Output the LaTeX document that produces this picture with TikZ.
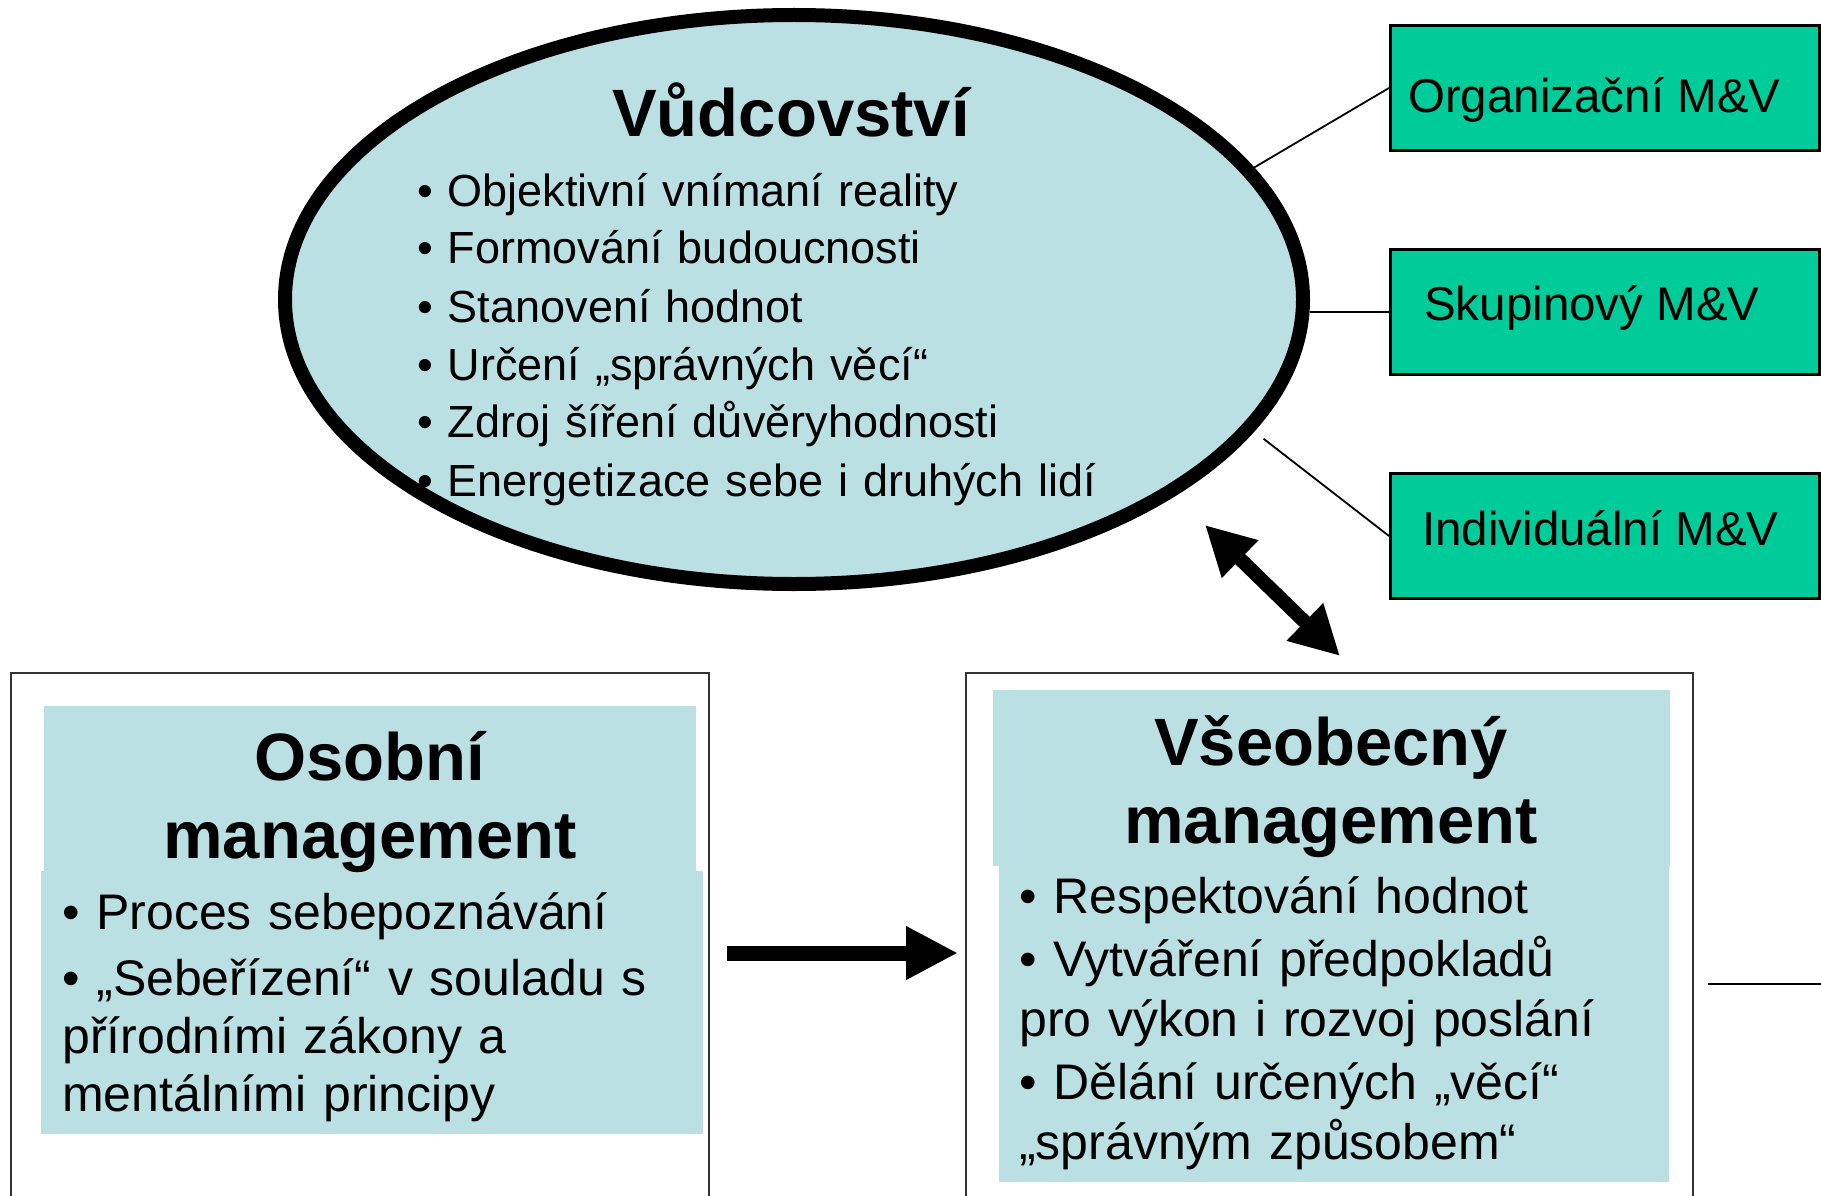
\documentclass[tikz,border=0pt]{standalone}
\usepackage{fontspec}
\setmainfont{Liberation Sans}
\usetikzlibrary{shapes.geometric, arrows.meta, positioning}

\definecolor{paleBlue}{RGB}{187,224,227}
\definecolor{mvGreen}{RGB}{0,204,153}

\begin{document}
\begin{tikzpicture}[
        x=1pt, y=-1pt,
        % styles
        leadShape/.style={ellipse, draw=black, line width=14pt, fill=paleBlue, inner sep=0pt, minimum width=1018pt, minimum height=569pt},
        mvBox/.style={rectangle, draw=black, line width=3pt, fill=mvGreen, inner sep=0pt, minimum width=429pt, minimum height=125pt},
        mgmtBox/.style={rectangle, draw=black!80, line width=2pt, inner sep=0pt, minimum height=560pt},
        % text styles
        bigTitle/.style={font=\fontsize{67}{78}\selectfont\bfseries, text width=640pt, align=center, anchor=base, inner sep=0pt},
        leadList/.style={font=\fontsize{45}{58}\selectfont, text width=900pt, align=left, anchor=base west, inner sep=0pt},
        mvText/.style={font=\fontsize{47.5}{56}\selectfont, anchor=base west, inner sep=0pt},
        bodyText/.style={text width=900pt, align=left, anchor=base west, inner sep=0pt},
        % connector styles
        connLine/.style={line width=1.8pt},
        bigArrow/.style={-{Triangle[length=52pt, width=50pt]}, line width=15pt},
        dblArrow/.style={{Triangle[length=49pt, width=49pt]}-{Triangle[length=49pt, width=49pt]}, line width=14pt}
    ]
    \useasboundingbox (0,0) rectangle (1821,1196);
    \clip (0,0) rectangle (1821,1196);

    % leadership ellipse
    \node [leadShape] (lead) at (794,299.5) {};
    \node [bigTitle] (leadTitle) at (791,137) {Vůdcovství};
    \node [leadList] (leadItems) at (417,206) {• Objektivní vnímaní reality\\• Formování budoucnosti\\• Stanovení hodnot\\• Určení „správných věcí“\\• Zdroj šíření důvěryhodnosti\\• Energetizace sebe i druhých lidí};

    % M&V boxes
    \node [mvBox] (org) at (1605,88) {};
    \node [mvBox] (grp) at (1605,312) {};
    \node [mvBox] (ind) at (1605,536) {};
    \node [mvText] (orgLbl) at (1408,113) {Organizační M\&V};
    \node [mvText] (grpLbl) at (1424,320) {Skupinový M\&V};
    \node [mvText] (indLbl) at (1422,545) {Individuální M\&V};

    % management boxes
    \node [mgmtBox, minimum width=698pt] (personal) at (360,953) {};
    \node [mgmtBox, minimum width=727pt] (general) at (1329.5,953) {};
    \fill [paleBlue] (44,706) rectangle (696,871);
    \fill [paleBlue] (41,871) rectangle (703,1134);
    \fill [paleBlue] (993,690) rectangle (1670,866);
    \fill [paleBlue] (999,866) rectangle (1669,1182);

    \node [bigTitle] (personalTitle) at (370,780) {Osobní\\management};
    \node [bigTitle] (generalTitle) at (1331,765) {Všeobecný\\management};
    \node [bodyText, font=\fontsize{50}{58}\selectfont] (personalItems) at (62,929) {• Proces sebepoznávání\\[8pt]• „Sebeřízení“ v souladu s\\přírodními zákony a\\mentálními principy};
    \node [bodyText, font=\fontsize{50}{60}\selectfont] (generalItems) at (1019,913) {• Respektování hodnot\\[3pt]• Vytváření předpokladů\\pro výkon i rozvoj poslání\\[3pt]• Dělání určených „věcí“\\„správným způsobem“};

    % connections
    \draw [connLine] (lead.16.6) -- (org.west);
    \draw [connLine] (grp.west) -- (grp.west -| lead.east);
    \draw [connLine, shorten <=12pt] (lead.-16.7) -- (ind.west);

    \draw [bigArrow, shorten <=17pt, shorten >=7pt] (personal) -- (general);

    \coordinate (dblTop) at (1205,525);
    \coordinate (dblBot) at (1340,656);
    \draw [dblArrow] (dblTop) -- (dblBot);

    \coordinate (stubStart) at (1708,984);
    \coordinate (stubEnd) at (1830,984);
    \draw [connLine] (stubStart) -- (stubEnd);

\end{tikzpicture}
\end{document}
